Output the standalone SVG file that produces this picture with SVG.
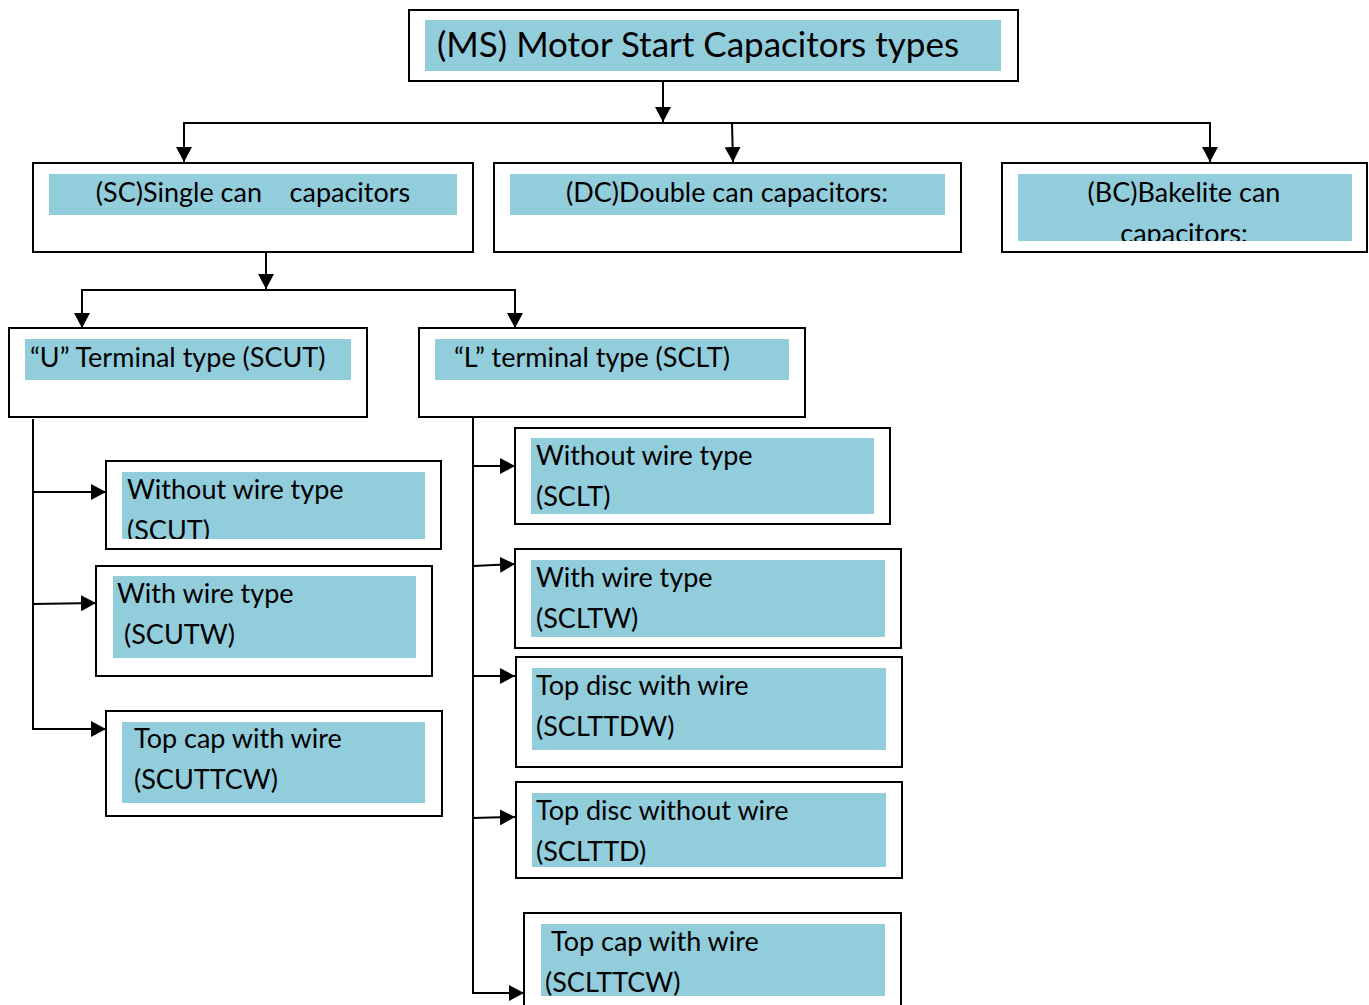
<svg xmlns="http://www.w3.org/2000/svg" width="1369" height="1005" viewBox="0 0 1369 1005">
<style>
.box{fill:#fff;stroke:#000;stroke-width:2}
.fill{fill:#92CDDC}
text{font-family:Lato,"Open Sans",sans-serif;font-size:27px;fill:#000}
.t{font-size:35px}
.c{text-anchor:middle}
.ln{fill:none;stroke:#000;stroke-width:2}
</style>
<defs>
<marker id="ah" markerUnits="userSpaceOnUse" markerWidth="16" markerHeight="16" refX="15" refY="8" orient="auto">
<path d="M0,0 L15,8 L0,16 Z" fill="#000"/>
</marker>
<clipPath id="cBC"><rect x="1018" y="174" width="334" height="67"/></clipPath>
<clipPath id="cSCUT"><rect x="122" y="472" width="303" height="67"/></clipPath>
<clipPath id="cLast"><rect x="541" y="924" width="344" height="72"/></clipPath>
</defs>
<g id="connectors">
<line class="ln" x1="663" y1="82" x2="663" y2="122" marker-end="url(#ah)"/>
<polyline class="ln" points="184,162 184,123 1210,123 1210,162" marker-end="url(#ah)"/>
<line class="ln" x1="184" y1="124" x2="184" y2="162" marker-end="url(#ah)"/>
<line class="ln" x1="732" y1="123" x2="733" y2="162" marker-end="url(#ah)"/>
<line class="ln" x1="266" y1="253" x2="266" y2="289" marker-end="url(#ah)"/>
<polyline class="ln" points="82,328 82,290 515,290 515,328" marker-end="url(#ah)"/>
<line class="ln" x1="82" y1="291" x2="82" y2="328" marker-end="url(#ah)"/>
<polyline class="ln" points="33,419 33,729 106,729" marker-end="url(#ah)"/>
<line class="ln" x1="33" y1="492" x2="106" y2="492" marker-end="url(#ah)"/>
<line class="ln" x1="33" y1="604" x2="96" y2="603" marker-end="url(#ah)"/>
<polyline class="ln" points="473,418 473,993 524,993" marker-end="url(#ah)"/>
<line class="ln" x1="473" y1="466" x2="515" y2="466" marker-end="url(#ah)"/>
<line class="ln" x1="473" y1="566" x2="515" y2="564" marker-end="url(#ah)"/>
<line class="ln" x1="473" y1="676" x2="515" y2="676" marker-end="url(#ah)"/>
<line class="ln" x1="472" y1="818" x2="515" y2="817" marker-end="url(#ah)"/>
</g>
<g id="ms">
<rect class="box" x="409" y="10" width="609" height="71"/>
<rect class="fill" x="425" y="20" width="576" height="51"/>
<text class="t" x="437" y="57">(MS) Motor Start Capacitors types</text>
</g>
<g id="sc">
<rect class="box" x="33" y="163" width="440" height="89"/>
<rect class="fill" x="49" y="174" width="408" height="41"/>
<text class="c" x="253" y="202" xml:space="preserve">(SC)Single can    capacitors</text>
</g>
<g id="dc">
<rect class="box" x="494" y="163" width="467" height="89"/>
<rect class="fill" x="510" y="174" width="435" height="41"/>
<text class="c" x="727" y="202">(DC)Double can capacitors:</text>
</g>
<g id="bc">
<rect class="box" x="1002" y="163" width="365" height="89"/>
<rect class="fill" x="1018" y="174" width="334" height="67"/>
<g clip-path="url(#cBC)">
<text class="c" x="1184" y="202">(BC)Bakelite can</text>
<text class="c" x="1184" y="243">capacitors:</text>
</g>
</g>
<g id="scut">
<rect class="box" x="9" y="328" width="358" height="89"/>
<rect class="fill" x="25" y="339" width="326" height="41"/>
<text x="30" y="367">“U” Terminal type (SCUT)</text>
</g>
<g id="sclt">
<rect class="box" x="419" y="328" width="386" height="89"/>
<rect class="fill" x="435" y="339" width="354" height="41"/>
<text x="454" y="367">“L” terminal type (SCLT)</text>
</g>
<g id="scut-nw">
<rect class="box" x="106" y="461" width="335" height="88"/>
<rect class="fill" x="122" y="472" width="303" height="67"/>
<g clip-path="url(#cSCUT)">
<text x="127" y="499">Without wire type</text>
<text x="127" y="540">(SCUT)</text>
</g>
</g>
<g id="scutw">
<rect class="box" x="96" y="566" width="336" height="110"/>
<rect class="fill" x="113" y="576" width="303" height="82"/>
<text x="117" y="603">With wire type</text>
<text x="124" y="644">(SCUTW)</text>
</g>
<g id="scuttcw">
<rect class="box" x="106" y="711" width="336" height="105"/>
<rect class="fill" x="122" y="722" width="303" height="81"/>
<text x="134" y="748">Top cap with wire</text>
<text x="134" y="789">(SCUTTCW)</text>
</g>
<g id="sclt-nw">
<rect class="box" x="515" y="428" width="375" height="96"/>
<rect class="fill" x="531" y="438" width="343" height="76"/>
<text x="536" y="465">Without wire type</text>
<text x="536" y="506">(SCLT)</text>
</g>
<g id="scltw">
<rect class="box" x="515" y="549" width="386" height="99"/>
<rect class="fill" x="531" y="560" width="354" height="77"/>
<text x="536" y="587">With wire type</text>
<text x="536" y="628">(SCLTW)</text>
</g>
<g id="sclttdw">
<rect class="box" x="516" y="657" width="386" height="110"/>
<rect class="fill" x="532" y="668" width="354" height="82"/>
<text x="536" y="695">Top disc with wire</text>
<text x="536" y="736">(SCLTTDW)</text>
</g>
<g id="sclttd">
<rect class="box" x="516" y="782" width="386" height="96"/>
<rect class="fill" x="532" y="793" width="354" height="74"/>
<text x="536" y="820">Top disc without wire</text>
<text x="536" y="861">(SCLTTD)</text>
</g>
<g id="sclttcw">
<rect class="box" x="524" y="913" width="377" height="100"/>
<rect class="fill" x="541" y="924" width="344" height="72"/>
<g clip-path="url(#cLast)">
<text x="551" y="951">Top cap with wire</text>
<text x="545" y="992">(SCLTTCW)</text>
</g>
</g>
</svg>
